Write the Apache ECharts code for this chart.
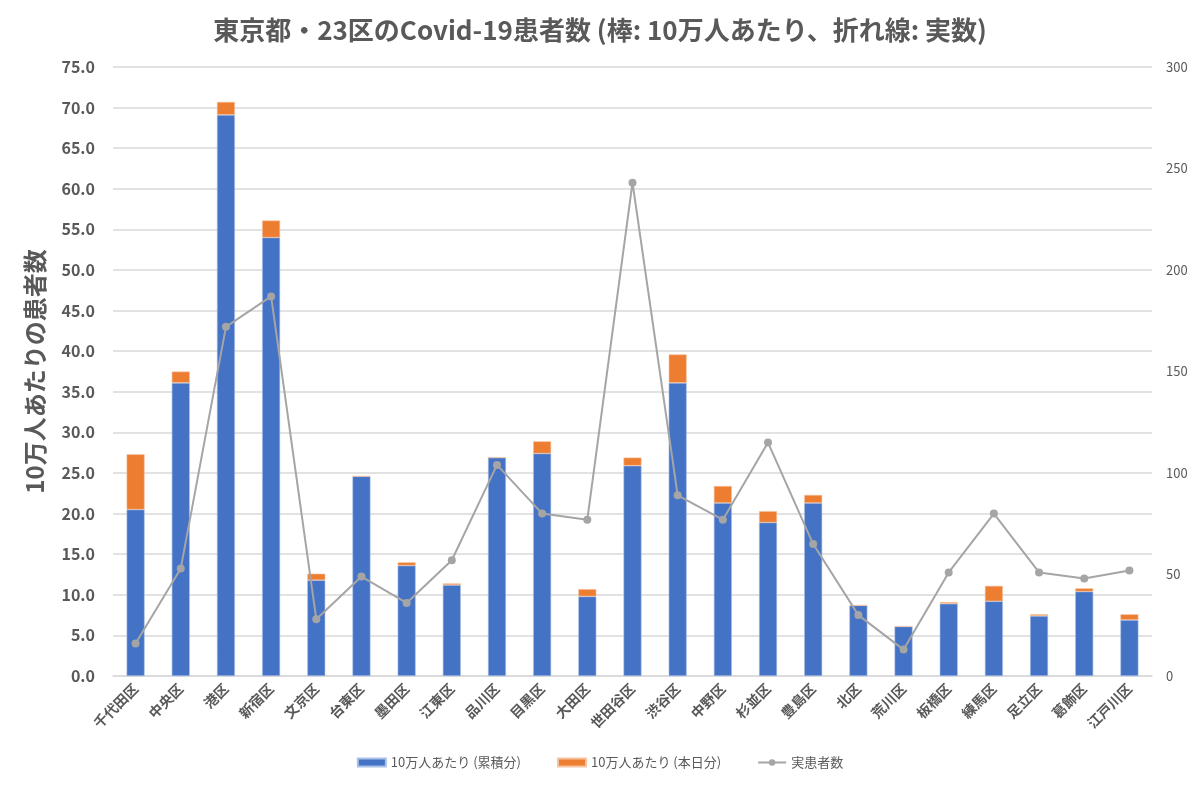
<!DOCTYPE html>
<html><head><meta charset="utf-8">
<script src="https://cdn.jsdelivr.net/npm/echarts@6/dist/echarts.min.js"></script>
<style>html,body{margin:0;padding:0;background:#fff}#c{width:1200px;height:788px}</style>
</head><body><div id="c"></div>
<script>
const categories = ['千代田区','中央区','港区','新宿区','文京区','台東区','墨田区','江東区','品川区','目黒区','大田区','世田谷区','渋谷区','中野区','杉並区','豊島区','北区','荒川区','板橋区','練馬区','足立区','葛飾区','江戸川区'];
const cumulative = [20.5,36.1,69.1,54.0,11.8,24.6,13.6,11.2,26.9,27.4,9.8,25.9,36.1,21.3,18.9,21.3,8.7,6.1,8.9,9.2,7.4,10.4,6.9];
const today = [6.8,1.4,1.6,2.1,0.8,0,0.4,0.2,0,1.5,0.9,1.0,3.5,2.1,1.4,1.0,0,0,0.2,1.9,0.2,0.4,0.7];
const actual = [16,53,172,187,28,49,36,57,104,80,77,243,89,77,115,65,30,13,51,80,51,48,52];

const font = '"Noto Sans CJK JP", "Noto Sans", sans-serif';
const chart = echarts.init(document.getElementById('c'));
chart.setOption({
  animation: false,
  textStyle: { fontFamily: font },
  title: {
    text: '東京都・23区のCovid-19患者数 (棒: 10万人あたり、折れ線: 実数)',
    left: 'center', top: 12,
    textStyle: { fontSize: 26, fontWeight: 'bold', color: '#595959', fontFamily: font }
  },
  legend: {
    bottom: 14, left: 'center', itemGap: 36, itemWidth: 28, itemHeight: 8,
    textStyle: { fontSize: 13, color: '#595959', fontFamily: font },
    data: [
      { name: '10万人あたり (累積分)', icon: 'rect' },
      { name: '10万人あたり (本日分)', icon: 'rect' },
      { name: '実患者数' }
    ]
  },
  grid: { left: 113, right: 48, top: 67, bottom: 112 },
  xAxis: {
    type: 'category', data: categories,
    axisLine: { lineStyle: { color: '#d9d9d9', width: 1.5 } },
    axisTick: { show: false },
    axisLabel: { rotate: 45, color: '#595959', fontSize: 14, fontWeight: 'bold', interval: 0, margin: 10 }
  },
  yAxis: [
    {
      type: 'value', min: 0, max: 75, interval: 5,
      name: '10万人あたりの患者数', nameLocation: 'middle', nameGap: 66, nameRotate: 90,
      nameTextStyle: { fontSize: 24, fontWeight: 'bold', color: '#595959', fontFamily: font },
      axisLabel: { formatter: v => v.toFixed(1), color: '#595959', fontSize: 16, fontWeight: 'bold', margin: 18 },
      axisLine: { show: false }, axisTick: { show: false },
      splitLine: { lineStyle: { color: '#d9d9d9', width: 1.5 } }
    },
    {
      type: 'value', min: 0, max: 300, interval: 50,
      axisLabel: { color: '#595959', fontSize: 13, margin: 14 },
      axisLine: { show: false }, axisTick: { show: false },
      splitLine: { show: false }
    }
  ],
  series: [
    {
      name: '10万人あたり (累積分)', type: 'bar', stack: 'a', data: cumulative,
      barWidth: 18, itemStyle: { color: '#4472c4', borderColor: '#a9c0e8', borderWidth: 0.6 }
    },
    {
      name: '10万人あたり (本日分)', type: 'bar', stack: 'a', data: today,
      barWidth: 18, itemStyle: { color: '#ed7d31', borderColor: '#f6c3a0', borderWidth: 0.6 }
    },
    {
      name: '実患者数', type: 'line', yAxisIndex: 1, data: actual,
      symbol: 'circle', symbolSize: 8,
      lineStyle: { color: '#a5a5a5', width: 2 },
      itemStyle: { color: '#a5a5a5' }
    }
  ]
});
</script></body></html>
